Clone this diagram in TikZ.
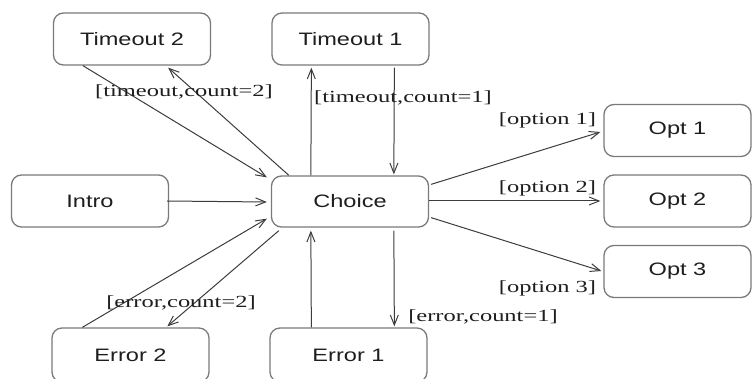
\documentclass[tikz,border=0pt]{standalone}
\usepackage{fontspec}
\usetikzlibrary{arrows.meta}
\newfontfamily\statefont[FakeStretch=1.31]{Liberation Sans}
\newfontfamily\guardfont[FakeStretch=1.44]{Liberation Serif}
\definecolor{boxline}{HTML}{7A7A7A}
\definecolor{flow}{HTML}{3C3C3C}
\definecolor{ink}{HTML}{1E1E1E}
\begin{document}
\begin{tikzpicture}[x=1pt,y=-1pt,
  state/.style={draw=boxline,line width=1.3pt,rounded corners=10pt,
    minimum width=157pt,minimum height=52pt,inner sep=0pt,
    text=ink,font=\statefont\fontsize{18}{18}\selectfont},
  optstate/.style={state,minimum width=147pt},
  guard/.style={inner sep=0pt,text=ink,font=\guardfont\fontsize{17}{17}\selectfont},
  flowline/.style={draw=flow,line width=1pt,-{Straight Barb[length=10pt,width=8pt,line width=1pt]}}]
\useasboundingbox (0,0) rectangle (752,379);
% states
\node[state] (t2) at (132,39) {Timeout 2};
\node[state] (t1) at (350.5,39) {Timeout 1};
\node[state] (intro) at (90,201) {Intro};
\node[state,minimum height=51pt] (choice) at (350,201.5) {Choice};
\node[optstate] (o1) at (677.5,130.5) {Opt 1};
\node[optstate] (o2) at (677.5,201) {Opt 2};
\node[optstate] (o3) at (677.5,271.5) {Opt 3};
\node[state,minimum height=54pt] (e2) at (130.5,355) {Error 2};
\node[state,minimum height=54pt] (e1) at (348.5,355) {Error 1};
% transitions
\draw[flowline] ([xshift=30pt]t2.south west) -- ([shift={(-4,2)}]choice.north west);
\draw[flowline] ([xshift=18pt]choice.north west) -- ([shift={(-43,2)}]t2.south east);
\draw[flowline] ([xshift=40pt]choice.north west) -- ([shift={(40,2)}]t1.south west);
\draw[flowline] ([shift={(123,2)}]t1.south west) -- ([shift={(123,-1)}]choice.north west);
\draw[flowline] ([shift={(2,9)}]choice.north east) -- ([shift={(-3,1.5)}]o1.west);
\draw[flowline] ([yshift=0.5pt]choice.east) -- ([xshift=-3pt]o2.west);
\draw[flowline] ([shift={(2,-10)}]choice.south east) -- ([shift={(-2,-0.5)}]o3.west);
\draw[flowline] ([xshift=-2pt]intro.east) -- ([shift={(-4,0.5)}]choice.west);
\draw[flowline] ([xshift=31pt]e2.north west) -- ([shift={(-4,-9)}]choice.south west);
\draw[flowline] ([shift={(8,3)}]choice.south west) -- ([shift={(116,-1)}]e2.north west);
\draw[flowline] ([xshift=42pt]e1.north west) -- ([shift={(40,3)}]choice.south west);
\draw[flowline] ([shift={(123,3)}]choice.south west) -- ([shift={(125,-1)}]e1.north west);
% guards
\node[guard] (g1) at (184,92) {[timeout,count=2]};
\node[guard] (g2) at (403,98) {[timeout,count=1]};
\node[guard] (g3) at (547.5,120) {[option 1]};
\node[guard] (g4) at (547.5,188) {[option 2]};
\node[guard] (g5) at (547.5,288) {[option 3]};
\node[guard] (g6) at (181,303) {[error,count=2]};
\node[guard] (g7) at (483,317) {[error,count=1]};
\end{tikzpicture}
\end{document}
